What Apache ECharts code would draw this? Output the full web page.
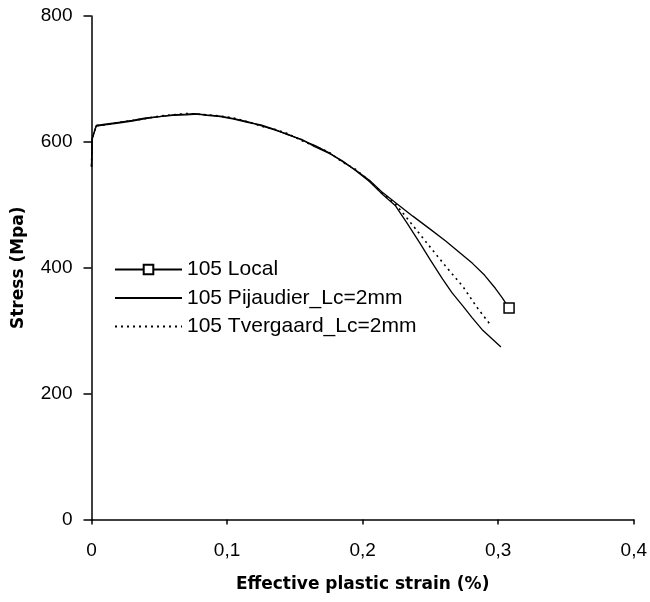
<!DOCTYPE html>
<html>
<head>
<meta charset="utf-8">
<script src="https://cdn.jsdelivr.net/npm/echarts@6/dist/echarts.min.js"></script>
<style>
html,body{margin:0;padding:0;background:#fff;}
#chart{width:650px;height:602px;}
</style>
</head>
<body>
<div id="chart"></div>
<script>
// Series names
var seriesNames = ['105 Local', '105 Pijaudier_Lc=2mm', '105 Tvergaard_Lc=2mm'];

// Tick labels
var xTickLabels = ['0', '0,1', '0,2', '0,3', '0,4'];
var yTickLabels = ['0', '200', '400', '600', '800'];

// Effective plastic strain (%) / Stress (MPa)
var localStrain = [0, 0.0005, 0.0035, 0.010, 0.020, 0.030, 0.040, 0.050, 0.060, 0.070, 0.076, 0.085, 0.095, 0.105, 0.115, 0.125, 0.135, 0.145, 0.155, 0.165, 0.175, 0.185, 0.195, 0.205, 0.215, 0.225, 0.237, 0.250, 0.261, 0.271, 0.281, 0.290, 0.298, 0.303, 0.308];
var localStress = [562, 606, 626, 628, 631, 634, 638, 640, 643, 644, 645, 643, 641, 637, 632, 626, 619, 612, 603, 594, 583, 569, 555, 539, 519, 502, 482, 461, 443, 425, 407, 388, 367, 352, 336];

var pijStrain = [0, 0.0005, 0.0035, 0.010, 0.020, 0.030, 0.040, 0.050, 0.060, 0.070, 0.078, 0.085, 0.095, 0.105, 0.115, 0.125, 0.135, 0.145, 0.155, 0.165, 0.175, 0.185, 0.195, 0.205, 0.215, 0.224, 0.233, 0.242, 0.250, 0.259, 0.266, 0.274, 0.281, 0.288, 0.295, 0.302];
var pijStress = [560, 604, 625, 627, 630, 633, 637, 640, 642, 643, 644, 642, 640, 636, 631, 627, 620, 611, 604, 592, 582, 570, 554, 537, 516, 499, 470, 440, 412, 382, 360, 339, 320, 302, 288, 274];

var tvStrain = [0, 0.0005, 0.0035, 0.010, 0.020, 0.030, 0.040, 0.050, 0.060, 0.070, 0.077, 0.085, 0.095, 0.105, 0.115, 0.125, 0.135, 0.145, 0.155, 0.165, 0.175, 0.185, 0.195, 0.205, 0.215, 0.224, 0.236, 0.249, 0.261, 0.274, 0.284, 0.294];
var tvStress = [561, 605, 626, 627, 631, 634, 637, 641, 643, 645, 644, 643, 641, 638, 632, 625, 620, 613, 602, 593, 584, 568, 556, 538, 517, 502, 470, 435, 403, 370, 338, 310];

function pairs(xs, ys) {
  return xs.map(function (x, i) { return [x, ys[i]]; });
}

var localData = pairs(localStrain, localStress).map(function (p, i, arr) {
  return i === arr.length - 1 ? { value: p } : { value: p, symbol: 'none' };
});

var chart = echarts.init(document.getElementById('chart'), null, { renderer: 'canvas' });

var axisFont = { fontFamily: 'Liberation Sans, Arial, sans-serif', fontSize: 19, color: '#000' };
var titleFont = { fontFamily: 'DejaVu Sans', fontWeight: 'bold', fontSize: 17, color: '#000' };

chart.setOption({
  animation: false,
  backgroundColor: '#fff',
  grid: { left: 91.5, right: 15, top: 16, bottom: 82.5, containLabel: false },
  legend: {
    orient: 'vertical',
    left: 109,
    top: 254,
    itemWidth: 67,
    itemHeight: 12,
    itemGap: 7.5,
    selectedMode: false,
    data: [
      { name: seriesNames[0] },
      { name: seriesNames[1], itemStyle: { opacity: 0 } },
      { name: seriesNames[2], itemStyle: { opacity: 0 } }
    ],
    textStyle: { fontFamily: 'Liberation Sans, Arial, sans-serif', fontSize: 21, color: '#000', lineHeight: 21 },
    lineStyle: { color: '#000' }
  },
  xAxis: {
    type: 'value',
    min: 0, max: 0.4, interval: 0.1,
    name: 'Effective plastic strain (%)',
    nameLocation: 'middle',
    nameGap: 57,
    nameTextStyle: titleFont,
    axisLine: { lineStyle: { color: '#000', width: 1.5 } },
    axisTick: { show: true, length: 5, lineStyle: { color: '#000', width: 1.5 } },
    axisLabel: Object.assign({ margin: 22, formatter: function (v) { return xTickLabels[Math.round(v * 10)]; } }, axisFont),
    splitLine: { show: false }
  },
  yAxis: {
    type: 'value',
    min: 0, max: 800, interval: 200,
    name: 'Stress (Mpa)',
    nameLocation: 'middle',
    nameGap: 64,
    nameRotate: 90,
    nameTextStyle: titleFont,
    axisLine: { show: true, lineStyle: { color: '#000', width: 1.5 } },
    axisTick: { show: true, length: 8, lineStyle: { color: '#000', width: 1.5 } },
    axisLabel: Object.assign({ margin: 19, formatter: function (v) { return yTickLabels[Math.round(v / 200)]; } }, axisFont),
    splitLine: { show: false }
  },
  series: [
    {
      name: seriesNames[0],
      type: 'line',
      data: localData,
      symbol: 'rect',
      symbolSize: 10,
      showSymbol: true,
      itemStyle: { color: '#fff', borderColor: '#000', borderWidth: 1.5 },
      lineStyle: { color: '#000', width: 1.3 },
      z: 3
    },
    {
      name: seriesNames[1],
      type: 'line',
      data: pairs(pijStrain, pijStress),
      symbol: 'none',
      itemStyle: { color: '#000' },
      lineStyle: { color: '#000', width: 1.3 }
    },
    {
      name: seriesNames[2],
      type: 'line',
      data: pairs(tvStrain, tvStress),
      symbol: 'none',
      itemStyle: { color: '#000' },
      lineStyle: { color: '#000', width: 1.6, type: [2, 4] }
    }
  ]
});
</script>
</body>
</html>
